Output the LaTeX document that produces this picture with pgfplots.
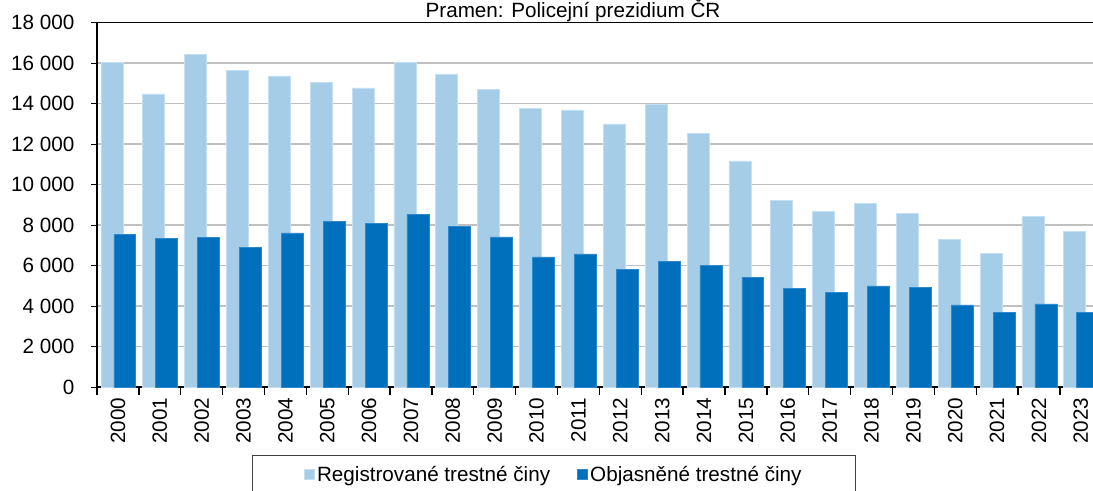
\documentclass[border=0pt]{standalone}
\usepackage{fontspec}
\setmainfont{Liberation Sans}
\usepackage{pgfplots}
\usepackage{pgfplotstable}
\pgfplotsset{compat=1.18}
\definecolor{reg}{HTML}{A6CDE7}
\definecolor{regedge}{HTML}{C4DFF1}
\definecolor{obj}{HTML}{0070BC}
\definecolor{objedge}{HTML}{2E88CC}
\definecolor{gridc}{HTML}{C0C0C0}
\definecolor{legc}{HTML}{404040}
\pgfplotstableread{
x year reg obj
0 2000 16050 7550
1 2001 14480 7350
2 2002 16440 7400
3 2003 15660 6910
4 2004 15370 7620
5 2005 15060 8170
6 2006 14780 8090
7 2007 16040 8550
8 2008 15470 7930
9 2009 14710 7420
10 2010 13770 6430
11 2011 13690 6580
12 2012 13000 5820
13 2013 13970 6220
14 2014 12540 6000
15 2015 11170 5430
16 2016 9210 4880
17 2017 8690 4690
18 2018 9080 5000
19 2019 8590 4930
20 2020 7300 4060
21 2021 6590 3710
22 2022 8420 4110
23 2023 7710 3710
}\datatable
\newcommand{\chfont}{\fontsize{15.5pt}{18pt}\selectfont}
\begin{document}
\begin{tikzpicture}
\begin{axis}[
  at={(72.75pt,77.1pt)}, anchor=south west,
  scale only axis,
  width=747pt, height=273.4pt,
  xmin=-0.5, xmax=23.29,
  ymin=0, ymax=18000,
  scaled y ticks=false,
  axis x line*=bottom, axis y line*=left,
  axis line style={-, black, line width=1.6pt},
  ytick={0,2000,...,18000},
  yticklabels={0,2 000,4 000,6 000,8 000,10 000,12 000,14 000,16 000,18 000},
  xtick={0,...,23},
  xticklabels={2000,2001,2002,2003,2004,2005,2006,2007,2008,2009,2010,2011,2012,2013,2014,2015,2016,2017,2018,2019,2020,2021,2022,2023},
  minor xtick={-0.5,0.5,...,22.5},
  tick align=outside,
  major tick length=4.5pt,
  minor tick length=5.5pt,
  major x tick style={draw=none},
  minor x tick style={black, line width=1pt},
  y tick style={black, line width=1pt},
  tick label style={font=\chfont},
  xticklabel style={rotate=90, anchor=east, xshift=0pt},
  yticklabel style={xshift=-9pt},
  ymajorgrids,
  grid style={gridc, line width=1.1pt},
  legend columns=2,
  legend style={at={(0.4588,-0.186)}, anchor=north, draw=legc, line width=0.8pt,
    font=\chfont, inner xsep=38.6pt, inner ysep=5.8pt,
    /tikz/every even column/.append style={column sep=18pt}},
  legend image code/.code={\fill[#1] (0pt,-3.75pt) rectangle (7.5pt,3.75pt);},
]
\addplot[ybar, bar width=0.525, bar shift=-0.145, fill=reg, draw=regedge, line width=0.5pt] table[x=x,y=reg]{\datatable};
\addlegendentry{Registrované trestné činy}
\addplot[ybar, bar width=0.525, bar shift=0.165, fill=obj, draw=objedge, line width=0.5pt] table[x=x,y=obj]{\datatable};
\addlegendentry{Objasněné trestné činy}
\draw[black, line width=1.2pt] (rel axis cs:0,1) -- (rel axis cs:1,1);
\end{axis}
\node[anchor=base, font=\chfont] at (429.75pt,354.5pt) {Pramen: Policejní prezidium ČR};
\pgfresetboundingbox
\useasboundingbox (0,0) rectangle (819.75pt,367.5pt);
\end{tikzpicture}
\end{document}
